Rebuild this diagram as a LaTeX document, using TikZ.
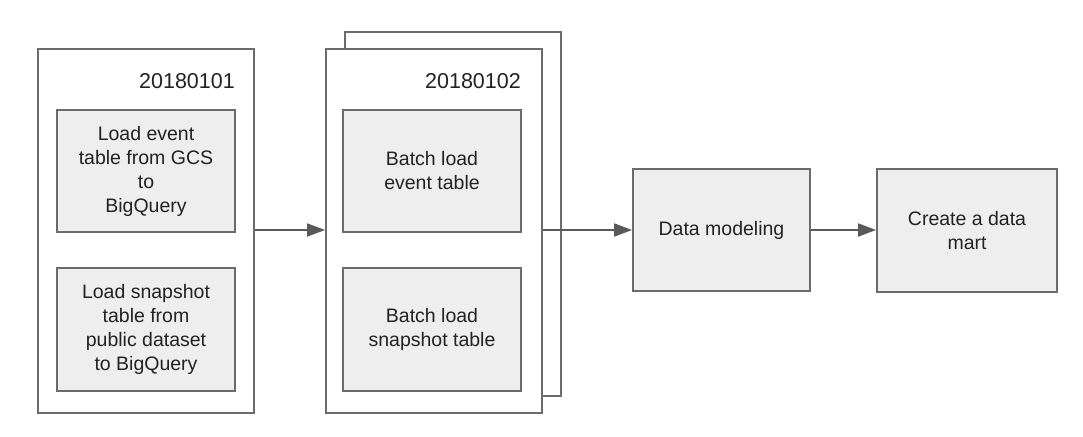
\documentclass[tikz,border=0pt]{standalone}
\usepackage{fontspec}
\setmainfont{Liberation Sans}
\usetikzlibrary{arrows.meta}
\definecolor{edgegray}{HTML}{6B6B6B}
\definecolor{arrowgray}{HTML}{595959}
\definecolor{boxfill}{HTML}{EEEEEE}
\definecolor{txt}{HTML}{222222}
\begin{document}
\begin{tikzpicture}[x=1pt,y=-1pt,
  frame/.style={draw=edgegray, line width=1.8pt, fill=white, minimum width=216pt, minimum height=364pt, inner sep=0pt},
  task/.style={draw=edgegray, line width=1.8pt, fill=boxfill, minimum width=178pt, minimum height=122pt, inner sep=0pt, align=center, text=txt, font=\fontsize{19.5}{24}\selectfont},
  datelabel/.style={anchor=base east, text=txt, inner sep=0pt, font=\fontsize{21.5}{24}\selectfont},
  flow/.style={draw=arrowgray, line width=1.8pt, -{Triangle[length=18pt,width=13pt]}}
]
\useasboundingbox (0,0) rectangle (1083,436);

% day 1
\node[frame] (d1) at (146,231) {};
\node[datelabel] (l1) at (235,88) {20180101};
\node[task] (t1) at (146,171) {Load event\\table from GCS\\to\\BigQuery};
\node[task, minimum height=123pt] (t2) at (146,329.5) {Load snapshot\\table from\\public dataset\\to BigQuery};

% day 2 (stacked)
\node[frame] (d2b) at (453,214) {};
\node[frame] (d2) at (434,231) {};
\node[datelabel] (l2) at (521,88) {20180102};
\node[task] (t3) at (432,171) {Batch load\\event table};
\node[task, minimum height=123pt] (t4) at (432,329.5) {Batch load\\snapshot table};

% downstream
\node[task, minimum width=177pt] (dm) at (721.5,230) {Data modeling};
\node[task, minimum width=180pt, minimum height=123pt] (cm) at (967,230.5) {Create a data\\mart};

\draw[flow] (d1.east |- 0,230) -- (d2.west |- 0,230);
\draw[flow] (d2.east |- 0,230) -- (dm.west);
\draw[flow] (dm.east) -- (cm.west |- dm.east);
\end{tikzpicture}
\end{document}
